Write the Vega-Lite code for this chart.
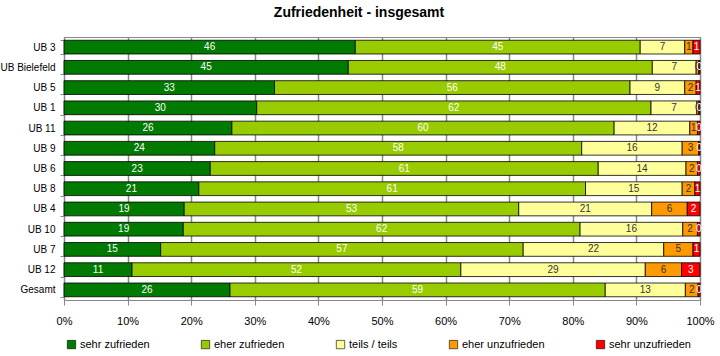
{
  "$schema": "https://vega.github.io/schema/vega-lite/v6.json",
  "autosize": {"type": "none"},
  "width": 636,
  "height": 263,
  "padding": {"left": 64, "top": 37, "right": 20, "bottom": 56},
  "background": "white",
  "config": {
    "font": "Liberation Sans",
    "view": {"stroke": "#888888", "strokeWidth": 1}
  },
  "title": {
    "text": "Zufriedenheit - insgesamt",
    "fontSize": 14,
    "fontWeight": "bold",
    "color": "#000000",
    "anchor": "middle",
    "dx": -23,
    "offset": 12
  },
  "data": {
    "values": [
      {"ub": "UB 3", "cat": "sehr zufrieden", "o": 1, "value": 45.8},
      {"ub": "UB 3", "cat": "eher zufrieden", "o": 2, "value": 44.8},
      {"ub": "UB 3", "cat": "teils / teils", "o": 3, "value": 7.0},
      {"ub": "UB 3", "cat": "eher unzufrieden", "o": 4, "value": 1.3},
      {"ub": "UB 3", "cat": "sehr unzufrieden", "o": 5, "value": 1.1},
      {"ub": "UB Bielefeld", "cat": "sehr zufrieden", "o": 1, "value": 44.7},
      {"ub": "UB Bielefeld", "cat": "eher zufrieden", "o": 2, "value": 47.8},
      {"ub": "UB Bielefeld", "cat": "teils / teils", "o": 3, "value": 6.9},
      {"ub": "UB Bielefeld", "cat": "eher unzufrieden", "o": 4, "value": 0.4},
      {"ub": "UB Bielefeld", "cat": "sehr unzufrieden", "o": 5, "value": 0.2},
      {"ub": "UB 5", "cat": "sehr zufrieden", "o": 1, "value": 33.1},
      {"ub": "UB 5", "cat": "eher zufrieden", "o": 2, "value": 55.9},
      {"ub": "UB 5", "cat": "teils / teils", "o": 3, "value": 8.6},
      {"ub": "UB 5", "cat": "eher unzufrieden", "o": 4, "value": 1.8},
      {"ub": "UB 5", "cat": "sehr unzufrieden", "o": 5, "value": 0.6},
      {"ub": "UB 1", "cat": "sehr zufrieden", "o": 1, "value": 30.3},
      {"ub": "UB 1", "cat": "eher zufrieden", "o": 2, "value": 62.0},
      {"ub": "UB 1", "cat": "teils / teils", "o": 3, "value": 7.2},
      {"ub": "UB 1", "cat": "eher unzufrieden", "o": 4, "value": 0.3},
      {"ub": "UB 1", "cat": "sehr unzufrieden", "o": 5, "value": 0.2},
      {"ub": "UB 11", "cat": "sehr zufrieden", "o": 1, "value": 26.4},
      {"ub": "UB 11", "cat": "eher zufrieden", "o": 2, "value": 60.1},
      {"ub": "UB 11", "cat": "teils / teils", "o": 3, "value": 11.9},
      {"ub": "UB 11", "cat": "eher unzufrieden", "o": 4, "value": 1.2},
      {"ub": "UB 11", "cat": "sehr unzufrieden", "o": 5, "value": 0.4},
      {"ub": "UB 9", "cat": "sehr zufrieden", "o": 1, "value": 23.7},
      {"ub": "UB 9", "cat": "eher zufrieden", "o": 2, "value": 57.7},
      {"ub": "UB 9", "cat": "teils / teils", "o": 3, "value": 15.8},
      {"ub": "UB 9", "cat": "eher unzufrieden", "o": 4, "value": 2.6},
      {"ub": "UB 9", "cat": "sehr unzufrieden", "o": 5, "value": 0.2},
      {"ub": "UB 6", "cat": "sehr zufrieden", "o": 1, "value": 23.0},
      {"ub": "UB 6", "cat": "eher zufrieden", "o": 2, "value": 61.0},
      {"ub": "UB 6", "cat": "teils / teils", "o": 3, "value": 13.8},
      {"ub": "UB 6", "cat": "eher unzufrieden", "o": 4, "value": 1.8},
      {"ub": "UB 6", "cat": "sehr unzufrieden", "o": 5, "value": 0.4},
      {"ub": "UB 8", "cat": "sehr zufrieden", "o": 1, "value": 21.2},
      {"ub": "UB 8", "cat": "eher zufrieden", "o": 2, "value": 60.8},
      {"ub": "UB 8", "cat": "teils / teils", "o": 3, "value": 15.2},
      {"ub": "UB 8", "cat": "eher unzufrieden", "o": 4, "value": 2.0},
      {"ub": "UB 8", "cat": "sehr unzufrieden", "o": 5, "value": 0.8},
      {"ub": "UB 4", "cat": "sehr zufrieden", "o": 1, "value": 18.9},
      {"ub": "UB 4", "cat": "eher zufrieden", "o": 2, "value": 52.6},
      {"ub": "UB 4", "cat": "teils / teils", "o": 3, "value": 20.9},
      {"ub": "UB 4", "cat": "eher unzufrieden", "o": 4, "value": 5.6},
      {"ub": "UB 4", "cat": "sehr unzufrieden", "o": 5, "value": 2.0},
      {"ub": "UB 10", "cat": "sehr zufrieden", "o": 1, "value": 18.7},
      {"ub": "UB 10", "cat": "eher zufrieden", "o": 2, "value": 62.2},
      {"ub": "UB 10", "cat": "teils / teils", "o": 3, "value": 16.1},
      {"ub": "UB 10", "cat": "eher unzufrieden", "o": 4, "value": 2.3},
      {"ub": "UB 10", "cat": "sehr unzufrieden", "o": 5, "value": 0.4},
      {"ub": "UB 7", "cat": "sehr zufrieden", "o": 1, "value": 15.2},
      {"ub": "UB 7", "cat": "eher zufrieden", "o": 2, "value": 57.0},
      {"ub": "UB 7", "cat": "teils / teils", "o": 3, "value": 22.1},
      {"ub": "UB 7", "cat": "eher unzufrieden", "o": 4, "value": 4.6},
      {"ub": "UB 7", "cat": "sehr unzufrieden", "o": 5, "value": 1.1},
      {"ub": "UB 12", "cat": "sehr zufrieden", "o": 1, "value": 10.7},
      {"ub": "UB 12", "cat": "eher zufrieden", "o": 2, "value": 51.7},
      {"ub": "UB 12", "cat": "teils / teils", "o": 3, "value": 29.0},
      {"ub": "UB 12", "cat": "eher unzufrieden", "o": 4, "value": 5.7},
      {"ub": "UB 12", "cat": "sehr unzufrieden", "o": 5, "value": 2.9},
      {"ub": "Gesamt", "cat": "sehr zufrieden", "o": 1, "value": 26.1},
      {"ub": "Gesamt", "cat": "eher zufrieden", "o": 2, "value": 59.0},
      {"ub": "Gesamt", "cat": "teils / teils", "o": 3, "value": 12.6},
      {"ub": "Gesamt", "cat": "eher unzufrieden", "o": 4, "value": 2.0},
      {"ub": "Gesamt", "cat": "sehr unzufrieden", "o": 5, "value": 0.3}
    ]
  },
  "transform": [
    {"stack": "value", "groupby": ["ub"], "sort": [{"field": "o"}], "offset": "normalize", "as": ["x0", "x1"]},
    {"calculate": "(datum.x0 + datum.x1) / 2", "as": "xm"}
  ],
  "encoding": {
    "y": {
      "field": "ub",
      "type": "nominal",
      "sort": ["UB 3", "UB Bielefeld", "UB 5", "UB 1", "UB 11", "UB 9", "UB 6", "UB 8", "UB 4", "UB 10", "UB 7", "UB 12", "Gesamt"],
      "scale": {"paddingInner": 0.32, "paddingOuter": 0.16},
      "axis": {
        "title": null,
        "labelFontSize": 10,
        "labelColor": "#000000",
        "labelPadding": 5,
        "tickSize": 4,
        "tickColor": "#888888",
        "tickBand": "extent",
        "domainColor": "#888888",
        "grid": false
      }
    }
  },
  "layer": [
    {
      "mark": {"type": "bar", "stroke": "#000000", "strokeWidth": 0.8},
      "encoding": {
        "x": {
          "field": "x0",
          "type": "quantitative",
          "scale": {"domain": [0, 1]},
          "axis": {
            "title": null,
            "format": ".0%",
            "values": [0, 0.1, 0.2, 0.3, 0.4, 0.5, 0.6, 0.7, 0.8, 0.9, 1],
            "labelFontSize": 11,
            "labelColor": "#000000",
            "labelPadding": 10,
            "tickSize": 5,
            "tickColor": "#888888",
            "domainColor": "#888888",
            "grid": true,
            "gridColor": "#888888",
            "gridWidth": 1.5,
            "labelFlush": false
          }
        },
        "x2": {"field": "x1"},
        "color": {
          "field": "cat",
          "type": "nominal",
          "sort": ["sehr zufrieden", "eher zufrieden", "teils / teils", "eher unzufrieden", "sehr unzufrieden"],
          "scale": {
            "domain": ["sehr zufrieden", "eher zufrieden", "teils / teils", "eher unzufrieden", "sehr unzufrieden"],
            "range": ["#007A00", "#99CC00", "#FFFF99", "#FF9900", "#FF0000"]
          },
          "legend": {
            "title": null,
            "orient": "none",
            "direction": "horizontal",
            "legendX": 2,
            "legendY": 302,
            "symbolType": "square",
            "symbolSize": 70,
            "symbolStrokeColor": "#000000",
            "symbolStrokeWidth": 0.6,
            "labelFontSize": 11,
            "labelColor": "#000000",
            "labelOffset": 3,
            "columnPadding": 50
          }
        }
      }
    },
    {
      "mark": {"type": "text", "fontSize": 10, "align": "center", "baseline": "middle"},
      "encoding": {
        "x": {"field": "xm", "type": "quantitative"},
        "text": {"field": "value", "type": "quantitative", "format": ".0f"},
        "color": {
          "field": "cat",
          "type": "nominal",
          "scale": {
            "domain": ["sehr zufrieden", "eher zufrieden", "teils / teils", "eher unzufrieden", "sehr unzufrieden"],
            "range": ["#ffffff", "#ffffff", "#333333", "#333333", "#ffffff"]
          },
          "legend": null
        }
      }
    }
  ],
  "resolve": {"scale": {"color": "independent"}}
}
